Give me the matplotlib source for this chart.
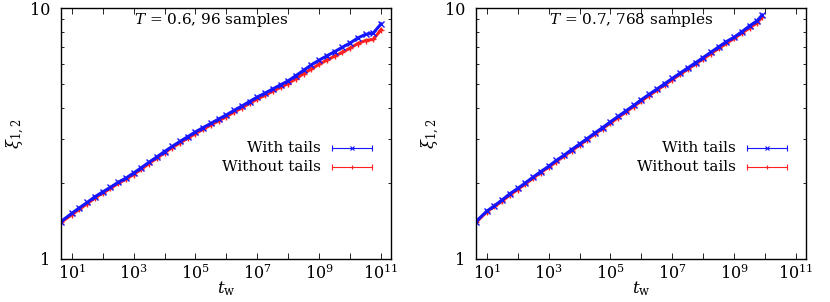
import math
import matplotlib
matplotlib.use("Agg")
import matplotlib.pyplot as plt
from matplotlib.ticker import FixedLocator, FuncFormatter, NullFormatter

# waiting times t_w (same grid for both series of a panel)
tw_06 = [4.5, 1e1, 1.78e1, 3.16e1, 5.62e1, 1e2, 1.78e2, 3.16e2, 5.62e2,
         1e3, 1.78e3, 3.16e3, 5.62e3, 1e4, 1.78e4, 3.16e4, 5.62e4,
         1e5, 1.78e5, 3.16e5, 5.62e5, 1e6, 1.78e6, 3.16e6, 5.62e6,
         1e7, 1.78e7, 3.16e7, 5.62e7, 1e8, 1.78e8, 3.16e8, 5.62e8,
         1e9, 1.78e9, 3.16e9, 5.62e9, 1e10, 1.78e10, 3.16e10, 5.62e10, 1e11]
xi_06_with = [1.41, 1.52, 1.60, 1.68, 1.77, 1.85, 1.93, 2.02, 2.10, 2.20,
              2.31, 2.43, 2.55, 2.68, 2.81, 2.94, 3.07, 3.21, 3.34, 3.47,
              3.61, 3.75, 3.91, 4.07, 4.24, 4.42, 4.58, 4.76, 4.94, 5.13,
              5.38, 5.65, 5.94, 6.20, 6.45, 6.70, 6.98, 7.25, 7.60, 7.85,
              7.95, 8.65]
xi_06_without = [1.40, 1.50, 1.58, 1.66, 1.75, 1.83, 1.91, 2.00, 2.08, 2.17,
                 2.28, 2.40, 2.52, 2.65, 2.78, 2.90, 3.03, 3.16, 3.29, 3.42,
                 3.55, 3.69, 3.85, 4.00, 4.17, 4.34, 4.49, 4.66, 4.83, 5.00,
                 5.23, 5.48, 5.72, 5.97, 6.20, 6.43, 6.66, 6.92, 7.22, 7.42,
                 7.50, 8.20]

tw_07 = [4.5, 1e1, 1.78e1, 3.16e1, 5.62e1, 1e2, 1.78e2, 3.16e2, 5.62e2,
         1e3, 1.78e3, 3.16e3, 5.62e3, 1e4, 1.78e4, 3.16e4, 5.62e4,
         1e5, 1.78e5, 3.16e5, 5.62e5, 1e6, 1.78e6, 3.16e6, 5.62e6,
         1e7, 1.78e7, 3.16e7, 5.62e7, 1e8, 1.78e8, 3.16e8, 5.62e8,
         1e9, 1.78e9, 3.16e9, 5.62e9, 8e9]
xi_07_with = [1.41, 1.55, 1.63, 1.72, 1.82, 1.91, 2.01, 2.12, 2.23, 2.34,
              2.47, 2.59, 2.73, 2.87, 3.02, 3.18, 3.34, 3.52, 3.70, 3.89,
              4.09, 4.31, 4.53, 4.75, 4.99, 5.24, 5.50, 5.77, 6.05, 6.35,
              6.67, 7.00, 7.35, 7.65, 8.05, 8.49, 8.91, 9.38]
xi_07_without = [1.40, 1.54, 1.62, 1.70, 1.80, 1.89, 1.99, 2.10, 2.21, 2.32,
                 2.44, 2.57, 2.70, 2.84, 2.99, 3.15, 3.31, 3.48, 3.66, 3.85,
                 4.05, 4.26, 4.48, 4.70, 4.93, 5.18, 5.44, 5.70, 5.98, 6.27,
                 6.58, 6.90, 7.23, 7.57, 7.95, 8.33, 8.75, 9.20]

titles = [r"$T$ = 0.6, 96 samples", r"$T$ = 0.7, 768 samples"]
labels = ["With tails", "Without tails"]
xdecades = [10.0 ** e for e in range(1, 12)]

plt.rcParams["font.family"] = "DejaVu Serif"
plt.rcParams["mathtext.fontset"] = "dejavuserif"
plt.rcParams["font.size"] = 10.5

fig = plt.figure(figsize=(8.3, 3.02), dpi=100)


def xfmt(v, pos):
    e = int(round(math.log10(v)))
    return r"$10^{%d}$" % e if e % 2 == 1 else ""


def panel(left, tw, xi_w, xi_wo, title, title_x):
    ax = fig.add_axes([left, 0.1424, 0.3976, 0.8311])
    ax.set_xscale("log")
    ax.set_yscale("log")
    # red first so the blue one sits on top like in the original
    ax.plot(tw, xi_wo, color="#ff2020", lw=2.2, marker="+", ms=4.5, mew=1.0)
    ax.plot(tw, xi_w, color="#1515ff", lw=2.2, marker="x", ms=3.8, mew=1.0)
    ax.set_xlim(4.5, 2.1e11)
    ax.set_ylim(1, 10)

    ax.xaxis.set_major_locator(FixedLocator(xdecades))
    ax.xaxis.set_major_formatter(FuncFormatter(xfmt))
    ax.xaxis.set_minor_locator(FixedLocator([]))
    ax.yaxis.set_major_locator(FixedLocator([1, 10]))
    ax.yaxis.set_major_formatter(FuncFormatter(lambda v, p: "%g" % v))
    ax.yaxis.set_minor_locator(FixedLocator([2, 3, 4, 5, 6, 7, 8, 9]))
    ax.yaxis.set_minor_formatter(NullFormatter())
    ax.tick_params(which="both", direction="in", top=True, right=True,
                   width=0.6, labelsize=11.5)
    ax.tick_params(which="major", length=4.5)
    ax.tick_params(which="minor", length=2.5)
    ax.tick_params(axis="y", pad=8)
    for s in ax.spines.values():
        s.set_linewidth(1.0)

    ax.set_xlabel(r"$t_{\mathrm{w}}$", fontsize=12, labelpad=-3)
    ax.set_ylabel(r"$\xi_{1,2}$", fontsize=12, labelpad=2)
    ax.text(title_x, 0.952, title, transform=ax.transAxes, ha="center",
            va="center", fontsize=11)

    # gnuplot-like key: text, then a horizontal error-bar sample
    for yk, lab, col, mk in [(0.442, labels[0], "#1515ff", "x"),
                              (0.368, labels[1], "#ff2020", "+")]:
        ax.text(0.788, yk, lab, transform=ax.transAxes, ha="right",
                va="center", fontsize=11)
        ax.plot([0.82, 0.943], [yk, yk], color=col, lw=0.8,
                transform=ax.transAxes)
        ax.plot([0.82, 0.943], [yk, yk], ls="none", marker="|", ms=4,
                mew=0.8, color=col, transform=ax.transAxes)
        ax.plot([0.8815], [yk], ls="none", marker=mk, ms=3, mew=0.8,
                color=col, transform=ax.transAxes)
    return ax


panel(0.0735, tw_06, xi_06_with, xi_06_without, titles[0], 0.456)
panel(0.5735, tw_07, xi_07_with, xi_07_without, titles[1], 0.472)

fig.savefig("out.png", dpi=100)
